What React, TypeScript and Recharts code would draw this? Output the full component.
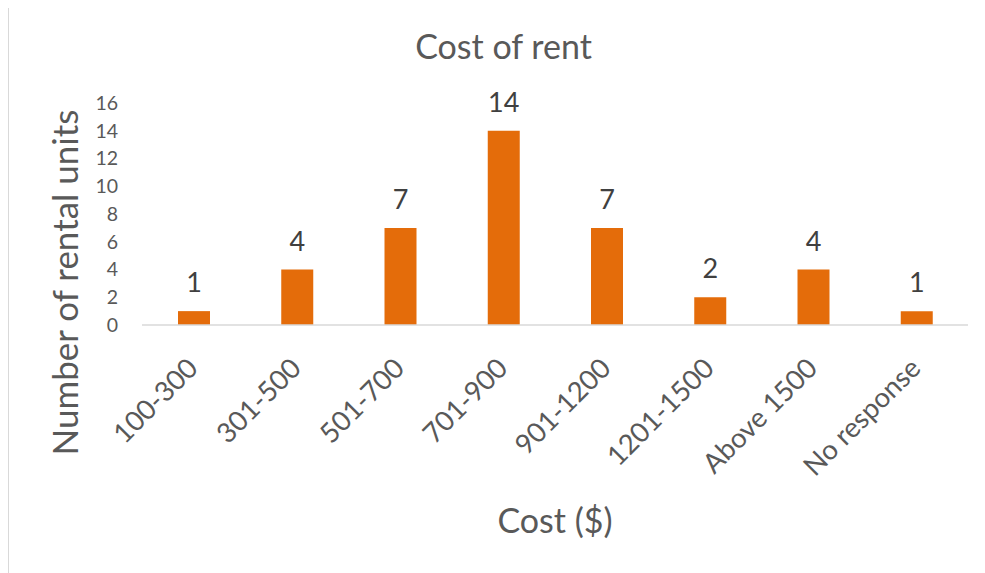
import React from "react";
import { BarChart, Bar, XAxis, YAxis, LabelList } from "recharts";

const categories = ["100-300", "301-500", "501-700", "701-900", "901-1200", "1201-1500", "Above 1500", "No response"];
const units = [1, 4, 7, 14, 7, 2, 4, 1];
const yTicks = [0, 2, 4, 6, 8, 10, 12, 14, 16];

const data = categories.map((c, i) => ({ name: c, value: units[i] }));

const FONT = "Lato, 'Noto Sans', sans-serif";

const XTick = (props: any) => {
  const { x, y, payload } = props;
  return (
    <g transform={`translate(${x},${y})`}>
      <text
        x={6}
        y={45}
        textAnchor="end"
        transform="rotate(-45, 6, 45)"
        fill="#595959"
        fontSize={27.5}
        fontFamily={FONT}
      >
        {payload.value}
      </text>
    </g>
  );
};

export default function App() {
  return (
    <div style={{ position: "relative", width: 977, height: 565, borderLeft: "1px solid #d9d9d9", boxSizing: "border-box", background: "#fff" }}>
      <BarChart
        width={977}
        height={565}
        data={data}
        margin={{ top: 95, right: 18, bottom: 0, left: -1 }}
        barSize={32}
      >
        <XAxis
          dataKey="name"
          height={248}
          axisLine={{ stroke: "#d9d9d9", strokeWidth: 1.5 }}
          tickLine={false}
          tickSize={0}
          tickMargin={0}
          interval={0}
          tick={<XTick />}
        />
        <YAxis
          width={134}
          domain={[0, 16]}
          ticks={yTicks}
          axisLine={false}
          tickLine={false}
          tickSize={0}
          tickMargin={24}
          tick={{ fill: "#595959", fontSize: 19.5, fontFamily: FONT }}
        />
        <Bar dataKey="value" fill="#E46C0A" isAnimationActive={false}>
          <LabelList dataKey="value" position="top" offset={19} fill="#404040" fontSize={27} fontFamily={FONT} />
        </Bar>
      </BarChart>
      <svg width={977} height={565} style={{ position: "absolute", left: 0, top: 0, pointerEvents: "none" }}>
        <text x={494.5} y={51} textAnchor="middle" fill="#595959" fontSize={34} fontFamily={FONT}>
          Cost of rent
        </text>
        <text x={546} y={525} textAnchor="middle" fill="#595959" fontSize={34} fontFamily={FONT}>
          Cost ($)
        </text>
        <text
          x={69}
          y={274.5}
          textAnchor="middle"
          transform="rotate(-90, 69, 274.5)"
          fill="#595959"
          fontSize={35}
          fontFamily={FONT}
        >
          Number of rental units
        </text>
      </svg>
    </div>
  );
}
